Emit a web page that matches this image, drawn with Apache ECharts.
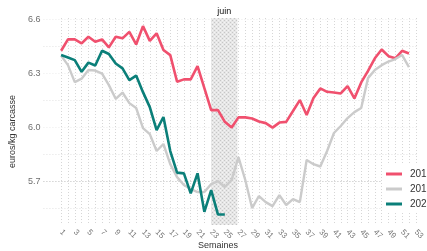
<!DOCTYPE html>
<html>
<head>
<meta charset="utf-8">
<style>
  html, body { margin: 0; padding: 0; background: #fff; }
  .chart { width: 427px; height: 251px; }
</style>
</head>
<body>
<div class="chart"></div>
<script src="https://cdn.jsdelivr.net/npm/echarts@6/dist/echarts.min.js"></script>
<script>
// semaines des séries (1 à 52)
const semaines = [1, 2, 3, 4, 5, 6, 7, 8, 9, 10, 11, 12, 13, 14, 15, 16, 17, 18, 19, 20, 21, 22, 23, 24, 25, 26,
  27, 28, 29, 30, 31, 32, 33, 34, 35, 36, 37, 38, 39, 40, 41, 42, 43, 44, 45, 46, 47, 48, 49, 50, 51, 52];
// graduations de l'axe x (une ligne par semaine) et étiquettes (semaines impaires)
const semainesAxe = semaines.concat([53]);
const semainesLabels = [1, 3, 5, 7, 9, 11, 13, 15, 17, 19, 21, 23, 25, 27, 29, 31, 33, 35, 37, 39, 41, 43, 45, 47, 49, 51, 53];
// graduations de l'axe y
const prixTicks = [5.55, 5.7, 5.85, 6.0, 6.15, 6.3, 6.45, 6.6];
const prixLabels = [5.7, 6.0, 6.3, 6.6];
// période "juin"
const juin = [23, 26.85];

// prix en euros/kg carcasse
const prix2018 = [6.424, 6.487, 6.487, 6.465, 6.502, 6.474, 6.487, 6.443, 6.502, 6.493, 6.529, 6.459, 6.561,
  6.479, 6.521, 6.428, 6.4, 6.252, 6.265, 6.265, 6.339, 6.217, 6.094, 6.094, 6.029, 5.998,
  6.054, 6.054, 6.048, 6.031, 6.022, 5.997, 6.025, 6.029, 6.089, 6.15, 6.067, 6.161, 6.215,
  6.196, 6.192, 6.187, 6.228, 6.159, 6.248, 6.312, 6.382, 6.431, 6.394, 6.382, 6.424, 6.409];
const prix2019 = [6.397, 6.344, 6.25, 6.269, 6.317, 6.314, 6.297, 6.233, 6.157, 6.192, 6.133, 6.106, 5.994,
  5.961, 5.867, 5.906, 5.794, 5.722, 5.678, 5.656, 5.639, 5.639, 5.683, 5.7, 5.667, 5.706,
  5.833, 5.706, 5.55, 5.617, 5.583, 5.561, 5.622, 5.567, 5.6, 5.583, 5.817, 5.794, 5.781,
  5.867, 5.967, 6.006, 6.05, 6.083, 6.106, 6.272, 6.317, 6.344, 6.364, 6.378, 6.4, 6.333];
const prix2020 = [6.4, 6.387, 6.372, 6.307, 6.358, 6.342, 6.424, 6.406, 6.353, 6.326, 6.261, 6.286, 6.194,
  6.111, 5.983, 6.056, 5.867, 5.747, 5.743, 5.632, 5.743, 5.529, 5.65, 5.514, 5.514];

function toPoints(values) {
  return values.map(function (v, i) {
    return [semaines[i], v];
  });
}

(function () {
  // motif hachuré pour la zone "juin"
  let tile = document.createElement("canvas");
  tile.width = 4;
  tile.height = 4;
  let ctx = tile.getContext("2d");
  ctx.fillStyle = "#e6e6e6";
  ctx.fillRect(0, 0, 4, 4);
  ctx.fillStyle = "#c6c6c6";
  ctx.fillRect(0, 0, 1, 1);
  ctx.fillRect(2, 2, 1, 1);
  ctx.fillStyle = "#f4f4f4";
  ctx.fillRect(2, 0, 1, 1);
  ctx.fillRect(0, 2, 1, 1);

  let myChart = echarts.init(document.querySelector(".chart"));
  let option = {
    animation: false,
    textStyle: { fontFamily: "Liberation Sans" },
    color: ["#f0506e", "#cbcbcb", "#0b7f79"],
    grid: { left: 38, right: 0, top: 18, bottom: 26 },
    // titre de l'axe x
    title: {
      text: "Semaines",
      left: 198,
      top: 241,
      padding: 0,
      textStyle: { fontSize: 9, fontWeight: "normal", color: "#333" },
    },
    legend: {
      orient: "vertical",
      left: 382,
      top: 165,
      backgroundColor: "#fff",
      padding: [4, 0, 4, 4],
      icon: "rect",
      itemWidth: 16,
      itemHeight: 3,
      itemGap: 5,
      textStyle: { fontSize: 10, color: "#333", padding: [0, 0, 0, 3] },
      data: ["2018", "2019", "2020"],
    },
    xAxis: {
      type: "value",
      min: -1.6,
      max: 53.15,
      axisLine: { show: false },
      axisTick: { show: false, customValues: semainesAxe },
      axisLabel: {
        customValues: semainesLabels,
        rotate: -45,
        fontSize: 8,
        color: "#777",
        margin: 6,
      },
      splitLine: {
        show: true,
        lineStyle: { type: [1, 2], color: "#d6d6d6", width: 1 },
      },
    },
    yAxis: {
      type: "value",
      min: 5.456,
      max: 6.606,
      name: "euros/kg carcasse",
      nameLocation: "middle",
      nameGap: 14,
      nameTextStyle: { fontSize: 9, color: "#333", padding: [0, 20, 0, 0] },
      axisLine: { show: false },
      axisTick: { show: false, customValues: prixTicks },
      axisLabel: {
        customValues: prixLabels,
        fontSize: 9,
        color: "#6e6e6e",
        margin: 3,
        formatter: function (v) {
          return v.toFixed(1);
        },
      },
      splitLine: {
        show: true,
        lineStyle: {
          type: [1, 2],
          width: 1,
          color: ["#e2e2e2", "#bdbdbd", "#e2e2e2", "#ececec", "#e2e2e2", "#ececec", "#e2e2e2", "#ececec"],
        },
      },
    },
    series: [
      {
        name: "2018",
        type: "line",
        symbol: "none",
        data: toPoints(prix2018),
        lineStyle: { width: 2.6 },
        markArea: {
          silent: true,
          itemStyle: { color: { image: tile, repeat: "repeat" }, opacity: 1 },
          label: { show: true, position: "top", distance: 2, color: "#111", fontSize: 9 },
          data: [[{ name: "juin", xAxis: juin[0] }, { xAxis: juin[1] }]],
        },
      },
      {
        name: "2019",
        type: "line",
        symbol: "none",
        data: toPoints(prix2019),
        lineStyle: { width: 2.4 },
      },
      {
        name: "2020",
        type: "line",
        symbol: "none",
        data: toPoints(prix2020),
        lineStyle: { width: 2.6 },
      },
    ],
  };
  myChart.setOption(option);
  window.addEventListener("resize", function () {
    myChart.resize();
  });
})();
</script>
</body>
</html>
